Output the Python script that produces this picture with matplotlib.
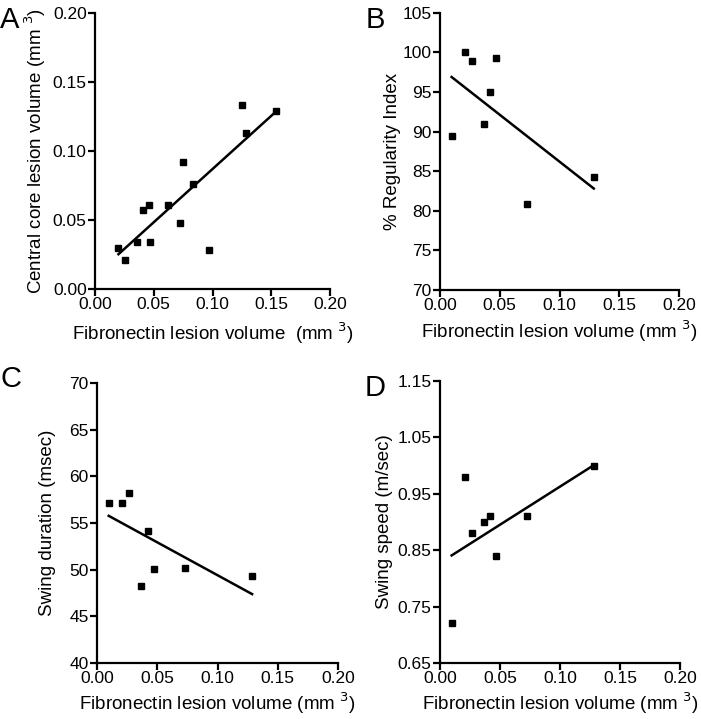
import numpy as np
import matplotlib
matplotlib.use("Agg")
import matplotlib.pyplot as plt
from matplotlib.ticker import FormatStrFormatter

plt.rcParams["font.family"] = ["Liberation Sans", "DejaVu Sans"]

# panel A: fibronectin vs central core
a_x = [0.020, 0.0255, 0.0355, 0.041, 0.046, 0.047, 0.062, 0.072, 0.0746, 0.083, 0.097, 0.125, 0.1285, 0.154]
a_y = [0.030, 0.021, 0.034, 0.057, 0.061, 0.034, 0.061, 0.048, 0.092, 0.076, 0.028, 0.133, 0.113, 0.129]

# panels B-D share the fibronectin volumes
bcd_x = [0.0097, 0.0208, 0.0264, 0.0367, 0.042, 0.047, 0.0727, 0.1287]
b_y = [89.5, 100.0, 98.9, 91.0, 95.0, 99.3, 80.9, 84.3]
c_y = [57.1, 57.2, 58.2, 48.3, 54.2, 50.1, 50.2, 49.3]
d_y = [0.72, 0.98, 0.88, 0.90, 0.91, 0.84, 0.91, 1.00]

x_ticks = [0.00, 0.05, 0.10, 0.15, 0.20]

fig = plt.figure(figsize=(7.01, 7.19), dpi=100)

panels = [
    # letter, x, y, rect, yticks, yfmt, ylabel, xlabel
    ("A", a_x, a_y, [0.1355, 0.598, 0.3353, 0.384], [0.00, 0.05, 0.10, 0.15, 0.20], "%.2f",
     "Central core lesion volume (mm $^{3}$)", "Fibronectin lesion volume  (mm $^{3}$)"),
    ("B", bcd_x, b_y, [0.6277, 0.597, 0.3409, 0.385], [70, 75, 80, 85, 90, 95, 100, 105], "%d",
     "% Regularity Index", "Fibronectin lesion volume (mm $^{3}$)"),
    ("C", bcd_x, c_y, [0.1384, 0.078, 0.3438, 0.389], [40, 45, 50, 55, 60, 65, 70], "%d",
     "Swing duration (msec)", "Fibronectin lesion volume (mm $^{3}$)"),
    ("D", bcd_x, d_y, [0.6277, 0.078, 0.3424, 0.392], [0.65, 0.75, 0.85, 0.95, 1.05, 1.15], "%.2f",
     "Swing speed (m/sec)", "Fibronectin lesion volume (mm $^{3}$)"),
]

letter_pos = {"A": (0.0, 0.992), "B": (0.522, 0.992), "C": (0.0, 0.492), "D": (0.52, 0.48)}
# label anchors in axes fraction (GraphPad puts them at a fixed offset)
ylab_x = {"A": -0.200, "B": -0.163, "C": -0.170, "D": -0.196}
xlab_y = {"A": -0.113, "B": -0.103, "C": -0.098, "D": -0.098}

for letter, xs, ys, rect, yticks, yfmt, ylab, xlab in panels:
    ax = fig.add_axes(rect)
    xs = np.array(xs)
    ys = np.array(ys)
    ax.plot(xs, ys, "s", color="black", markersize=4.5, clip_on=False)
    slope, icpt = np.polyfit(xs, ys, 1)
    fx = np.array([xs.min(), xs.max()])
    ax.plot(fx, slope * fx + icpt, color="black", linewidth=1.8)

    ax.set_xlim(0, 0.20)
    ax.set_ylim(yticks[0], yticks[-1])
    ax.set_xticks(x_ticks)
    ax.set_yticks(yticks)
    ax.xaxis.set_major_formatter(FormatStrFormatter("%.2f"))
    ax.yaxis.set_major_formatter(FormatStrFormatter(yfmt))
    for s in ["top", "right"]:
        ax.spines[s].set_visible(False)
    for s in ["left", "bottom"]:
        ax.spines[s].set_linewidth(1.6)
    ax.tick_params(direction="out", length=5, width=1.6, labelsize=12.5, pad=1)
    ax.set_xlabel(xlab, fontsize=13.5)
    ax.set_ylabel(ylab, fontsize=13.5)
    ax.yaxis.set_label_coords(ylab_x[letter], 0.5)
    ax.xaxis.set_label_coords(0.5, xlab_y[letter])

    lx, ly = letter_pos[letter]
    fig.text(lx, ly, letter, fontsize=21, va="top", ha="left")

fig.savefig("out.png", dpi=100)
